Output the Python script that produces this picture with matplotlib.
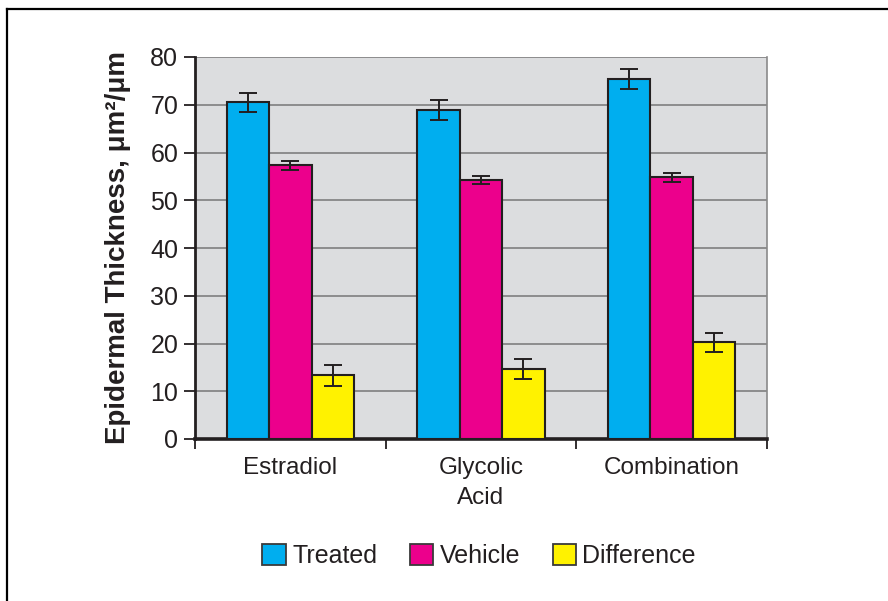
import matplotlib
matplotlib.use("Agg")
import matplotlib.pyplot as plt
from matplotlib.lines import Line2D
from matplotlib.patches import Patch
import numpy as np

plt.rcParams['font.family'] = ['Liberation Sans', 'DejaVu Sans']

categories = ["Estradiol", "Glycolic\nAcid", "Combination"]
series = ["Treated", "Vehicle", "Difference"]
treated = [70.5, 68.9, 75.4]
vehicle = [57.3, 54.2, 54.8]
difference = [13.3, 14.7, 20.3]
treated_err = [2.0, 2.0, 2.0]
vehicle_err = [1.0, 0.9, 0.9]
difference_err = [2.1, 2.1, 2.0]
yticks = [0, 10, 20, 30, 40, 50, 60, 70, 80]

colors = ["#00AEEF", "#EC008C", "#FFF200"]
ink = "#231F20"

W, H = 888, 601
fig = plt.figure(figsize=(W / 100, H / 100), dpi=100)
ax = fig.add_axes([195 / W, 1 - 439 / H, (767 - 195) / W, (439 - 57) / H])
ax.set_facecolor("#DCDDDF")

x = np.arange(len(categories))
width = 0.2225
values = [treated, vehicle, difference]
errors = [treated_err, vehicle_err, difference_err]
for i, (vals, errs) in enumerate(zip(values, errors)):
    pos = x + (i - 1) * width
    ax.bar(pos, vals, width, color=colors[i], edgecolor=ink, linewidth=1.5,
           zorder=3, label=series[i])
    ax.errorbar(pos, vals, yerr=errs, fmt="none", ecolor=ink, elinewidth=1.4,
                capsize=6.5, capthick=1.4, zorder=4)

ax.set_xlim(-0.5, 2.5)
ax.set_ylim(0, 80)
ax.set_yticks(yticks)
ax.yaxis.grid(True, color="#7F7F7F", linewidth=1.2, zorder=1)
ax.set_axisbelow(True)

# category boundaries as major ticks, names as minor tick labels
ax.set_xticks([-0.5, 0.5, 1.5, 2.5])
ax.set_xticklabels([])
ax.set_xticks(x, minor=True)
ax.set_xticklabels(categories, minor=True, fontsize=17.5, color=ink,
                   linespacing=1.45)
ax.tick_params(axis="x", which="major", length=7, width=1.3, color=ink,
               direction="out")
ax.tick_params(axis="x", which="minor", length=0, pad=13)
ax.tick_params(axis="y", length=8, width=1.3, color=ink, labelsize=18,
               labelcolor=ink, pad=4)

ax.spines["top"].set_visible(False)
ax.spines["right"].set_color("#8A8A8A")
ax.spines["right"].set_linewidth(1.2)
ax.spines["left"].set_color(ink)
ax.spines["left"].set_linewidth(2.0)
ax.spines["bottom"].set_color(ink)
ax.spines["bottom"].set_linewidth(2.6)

ax.set_ylabel("Epidermal Thickness, \u03bcm\u00b2/\u03bcm", fontsize=20,
              fontweight="bold", color=ink)
ax.yaxis.set_label_coords((131 - 195) / (767 - 195), 0.5)

handles = [Patch(facecolor=c, edgecolor="#3A3A3A", linewidth=1.3) for c in colors]
leg = fig.legend(handles, series, loc="center", bbox_to_anchor=(479 / W, 1 - 556 / H),
                 ncol=3, frameon=False, fontsize=18, handlelength=0.95,
                 handleheight=0.95, handletextpad=0.25, columnspacing=1.3,
                 labelcolor=ink)

# outer frame lines
fig.add_artist(Line2D([7 / W, 7 / W], [0, 1 - 9 / H], color="black", linewidth=1.6,
                      transform=fig.transFigure))
fig.add_artist(Line2D([7 / W, 1], [1 - 9 / H, 1 - 9 / H], color="black", linewidth=1.6,
                      transform=fig.transFigure))

fig.savefig("out.png", dpi=100)
